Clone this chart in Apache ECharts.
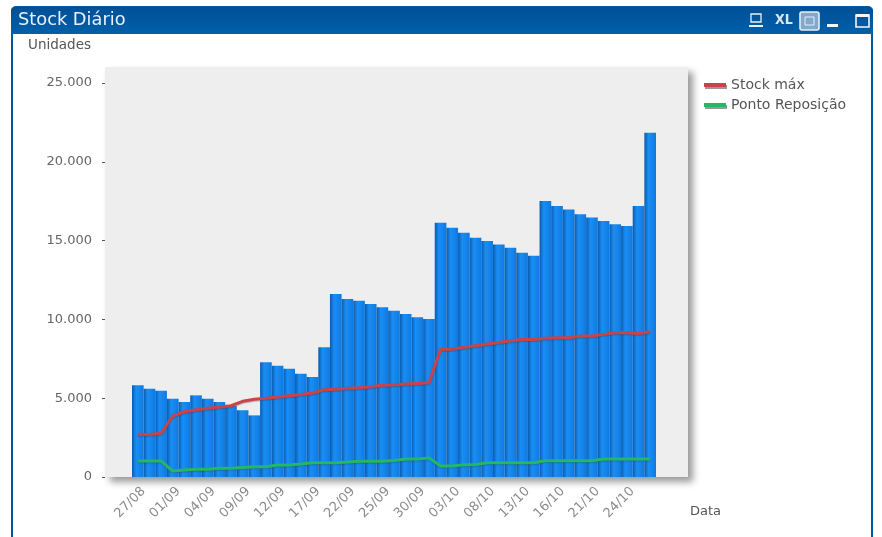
<!DOCTYPE html>
<html>
<head>
<meta charset="utf-8">
<style>html,body{margin:0;padding:0;background:#fff}#c{width:882px;height:537px}</style>
<script src="https://cdn.jsdelivr.net/npm/echarts@6/dist/echarts.min.js"></script>
</head>
<body>
<div id="c"></div>
<script>
const categories = ['27/08','28/08','29/08','01/09','02/09','03/09','04/09','05/09','08/09','09/09','10/09','11/09','12/09','15/09','16/09','17/09','18/09','19/09','22/09','23/09','24/09','25/09','26/09','29/09','30/09','01/10','02/10','03/10','06/10','07/10','08/10','09/10','10/10','13/10','14/10','15/10','16/10','17/10','20/10','21/10','22/10','23/10','24/10','27/10','28/10'];
const stockDiario = [5820,5600,5480,4970,4760,5180,4970,4760,4500,4230,3910,7280,7060,6870,6550,6350,8230,11610,11290,11190,10980,10770,10550,10340,10130,10030,16140,15820,15500,15180,14970,14760,14550,14230,14040,17510,17200,16980,16670,16460,16240,16030,15930,17200,21850];
const stockMax = [2710,2690,2770,3870,4140,4270,4360,4440,4520,4800,4930,4990,5080,5160,5240,5330,5540,5560,5630,5670,5730,5820,5860,5900,5940,5980,8100,8100,8230,8330,8440,8540,8650,8730,8730,8800,8840,8840,8950,8950,9050,9160,9160,9100,9220];
const pontoReposicao = [1010,1010,1010,380,440,490,490,550,550,610,650,650,760,760,820,900,900,900,950,1000,1000,1000,1050,1140,1140,1200,700,700,780,800,900,900,900,900,900,1030,1030,1030,1030,1030,1140,1140,1140,1140,1140];
const yTicks = {min:0,max:25000,interval:5000};

const barGrad = new echarts.graphic.LinearGradient(0,0,1,0,[
  {offset:0,color:'#0a5aae'},{offset:.35,color:'#1a8df2'},{offset:.7,color:'#1484ec'},{offset:1,color:'#0f78dc'}
]);
const fmt = v => String(v).replace(/\B(?=(\d{3})+$)/g,'.');
const chart = echarts.init(document.getElementById('c'),null,{renderer:'canvas'});
const blue='#00589f';
const ff='"DejaVu Sans"';
chart.setOption({
  animation:false,
  backgroundColor:'#fff',
  textStyle:{fontFamily:ff},
  grid:{left:132,right:226,top:83,bottom:60},
  legend:{
    left:699,top:73,orient:'vertical',itemWidth:22,itemHeight:4,itemGap:6,
    icon:'rect',
    data:['Stock máx','Ponto Reposição'],
    textStyle:{color:'#555',fontSize:14,fontFamily:ff},
    itemStyle:{shadowColor:'#999',shadowOffsetY:2,shadowOffsetX:1,shadowBlur:0}
  },
  xAxis:{
    type:'category',data:categories,
    name:'Data',nameLocation:'end',nameGap:34,
    nameTextStyle:{color:'#555',fontSize:13,align:'left',verticalAlign:'top',padding:[28,0,0,0]},
    axisLine:{show:false},axisTick:{show:false},
    axisLabel:{interval:2,rotate:45,color:'#8a8a8a',fontSize:13,margin:18,padding:[0,-8,0,0],hideOverlap:false}
  },
  yAxis:{
    type:'value',...yTicks,offset:27,
    name:'Unidades',nameLocation:'end',nameGap:31,
    nameTextStyle:{color:'#555',fontSize:13.5,align:'right',padding:[0,14,0,0]},
    splitLine:{show:false},
    axisLine:{show:false},
    axisTick:{show:true,length:3,lineStyle:{color:'#555'}},
    axisLabel:{color:'#666',fontSize:13,margin:13,formatter:fmt}
  },
  series:[
    {name:'Stock',type:'bar',data:stockDiario,barWidth:'100%',barGap:0,z:3,
      itemStyle:{color:barGrad}},
    {name:'Stock máx',type:'line',data:stockMax,symbol:'none',z:5,color:'#c8444a',
      lineStyle:{width:3,color:'#c8444a',shadowColor:'rgba(60,60,60,.35)',shadowBlur:1,shadowOffsetY:1}},
    {name:'Ponto Reposição',type:'line',data:pontoReposicao,symbol:'none',z:5,color:'#22b864',
      lineStyle:{width:3,color:'#22b864',shadowColor:'rgba(60,60,60,.3)',shadowBlur:1,shadowOffsetY:1}}
  ],
  graphic:[
    {type:'rect',z:-10,silent:true,shape:{x:105,y:67,width:583,height:410},
      style:{fill:'#eeeeee',shadowColor:'rgba(0,0,0,.4)',shadowBlur:7,shadowOffsetX:5,shadowOffsetY:5}},
    {type:'rect',z:-20,silent:true,shape:{x:12,y:7,width:860,height:560,r:[4,4,0,0]},
      style:{fill:'#fff',stroke:blue,lineWidth:2}},
    {type:'rect',z:-5,silent:true,shape:{x:11,y:7,width:862,height:27,r:[4,4,0,0]},
      style:{fill:new echarts.graphic.LinearGradient(0,0,0,1,[{offset:0,color:'#005096'},{offset:1,color:'#0060aa'}])}},
    {type:'text',z:1,silent:true,x:18,y:11,style:{text:'Stock Diário',fill:'#e8f0f8',font:'17.8px '+ff}},
    {type:'text',z:1,silent:true,x:775,y:13,style:{text:'XL',fill:'#dbe8f3',font:'bold 14px "DejaVu Sans Condensed"'}},
    {type:'rect',z:1,silent:true,shape:{x:751,y:14,width:10,height:8},style:{fill:'none',stroke:'#e8f0f8',lineWidth:1.3}},
    {type:'rect',z:1,silent:true,shape:{x:749,y:25,width:14,height:2},style:{fill:'#e8f0f8'}},
    {type:'rect',z:1,silent:true,shape:{x:800,y:12,width:19,height:18,r:2},style:{fill:'#7fa9cf',stroke:'#e6eef6',lineWidth:1.6}},
    {type:'rect',z:1,silent:true,shape:{x:805,y:17,width:9,height:8},style:{fill:'none',stroke:'#e6eef6',lineWidth:1}},
    {type:'rect',z:1,silent:true,shape:{x:827,y:24,width:11,height:3},style:{fill:'#f2f6fa'}},
    {type:'rect',z:1,silent:true,shape:{x:856,y:15,width:13,height:12},style:{fill:'none',stroke:'#f2f6fa',lineWidth:1.6}},
    {type:'rect',z:1,silent:true,shape:{x:856,y:14,width:13,height:3},style:{fill:'#f2f6fa'}}
  ]
});
</script>
</body>
</html>
